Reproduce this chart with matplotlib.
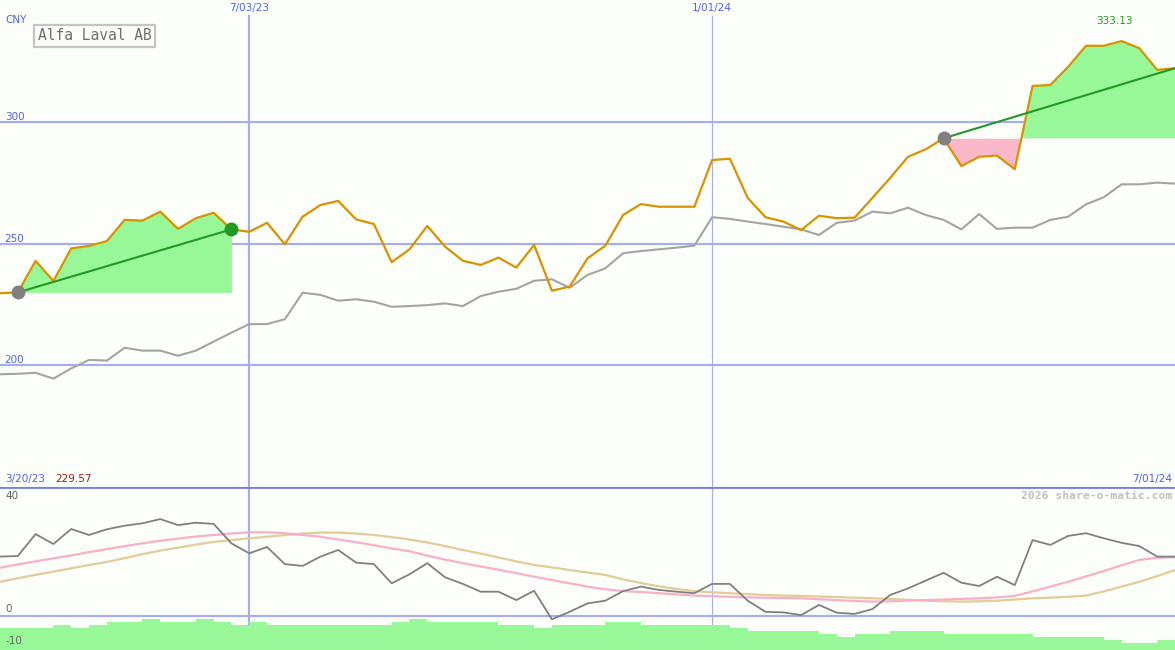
import matplotlib
matplotlib.use('Agg')
import matplotlib.pyplot as plt
import matplotlib.transforms as mtransforms
import numpy as np

# weekly closes, starting 3/20/23 (week index 0)
price = [229.57, 229.9, 242.9, 234.6, 248.0, 249.0, 251.0, 259.7, 259.4, 263.1,
         256.0, 260.4, 262.6, 255.8, 254.8, 258.5, 249.7, 261.0, 265.8, 267.5,
         259.9, 258.0, 242.3, 247.6, 257.2, 248.7, 242.9, 241.2, 244.2, 240.1,
         249.4, 230.6, 232.3, 243.9, 249.1, 261.7, 266.2, 265.1, 265.1, 265.1,
         284.3, 284.8, 268.7, 260.8, 259.0, 255.5, 261.4, 260.4, 260.6, 268.7,
         276.9, 285.6, 288.7, 293.2, 281.8, 285.6, 286.1, 280.5, 314.7, 315.1,
         322.6, 331.2, 331.2, 333.13, 330.2, 321.3, 322.0]

# comparison index (grey line)
compare = [196.3, 196.5, 196.9, 194.5, 198.7, 202.2, 201.9, 207.2, 206.0, 206.0,
           203.9, 206.0, 209.7, 213.4, 216.9, 216.9, 218.9, 229.8, 228.9, 226.5,
           227.1, 226.1, 224.0, 224.3, 224.7, 225.4, 224.3, 228.4, 230.2, 231.4,
           234.7, 235.3, 231.8, 237.1, 239.8, 246.0, 246.9, 247.6, 248.3, 249.1,
           260.8, 260.1, 259.0, 258.0, 256.9, 255.8, 253.5, 258.5, 259.4, 263.1,
           262.4, 264.7, 261.7, 259.7, 255.8, 262.1, 256.0, 256.5, 256.5, 259.7,
           261.0, 266.1, 269.0, 274.3, 274.3, 275.0, 274.6]

# lower panel indicator
osc = [19.8, 20.0, 27.3, 24.0, 29.0, 27.0, 28.9, 30.1, 30.9, 32.3,
       30.3, 31.1, 30.7, 24.2, 20.9, 23.0, 17.3, 16.7, 19.8, 22.0,
       17.8, 17.3, 10.9, 13.9, 17.6, 12.9, 10.7, 8.1, 8.1, 5.3,
       8.4, -1.1, 1.4, 4.2, 5.1, 8.3, 9.8, 8.7, 8.1, 7.6,
       10.7, 10.7, 5.1, 1.4, 1.2, 0.3, 3.7, 1.1, 0.7, 2.3,
       7.0, 9.2, 11.8, 14.4, 11.1, 10.0, 13.1, 10.3, 25.3, 23.7,
       26.7, 27.6, 25.9, 24.4, 23.3, 19.8, 19.8]

osc_fast = [16.1, 17.2, 18.2, 19.2, 20.2, 21.3, 22.3, 23.3, 24.2, 25.1,
            25.8, 26.5, 27.0, 27.5, 27.9, 27.9, 27.6, 27.0, 26.4, 25.5,
            24.6, 23.6, 22.5, 21.6, 20.1, 18.8, 17.6, 16.5, 15.4, 14.3,
            13.1, 12.0, 10.9, 9.8, 8.9, 8.3, 8.0, 7.6, 7.2, 6.8,
            6.6, 6.4, 6.2, 6.1, 6.0, 5.9, 5.6, 5.3, 5.0, 4.8,
            4.9, 5.1, 5.3, 5.5, 5.7, 5.9, 6.2, 6.7, 8.2, 9.8,
            11.4, 13.2, 15.0, 16.9, 18.7, 19.4, 19.6]

osc_slow = [11.4, 12.6, 13.7, 14.8, 15.9, 17.0, 18.0, 19.3, 20.6, 21.8,
            22.8, 23.8, 24.7, 25.3, 25.9, 26.4, 27.0, 27.5, 27.8, 27.8,
            27.5, 27.0, 26.3, 25.5, 24.5, 23.3, 22.0, 20.8, 19.5, 18.2,
            17.0, 16.2, 15.3, 14.5, 13.7, 12.2, 11.0, 9.9, 9.0, 8.3,
            7.9, 7.6, 7.3, 7.0, 6.8, 6.7, 6.5, 6.3, 6.1, 5.9,
            5.7, 5.4, 5.1, 4.9, 4.8, 4.9, 5.1, 5.5, 5.9, 6.1,
            6.4, 6.8, 8.2, 9.8, 11.4, 13.3, 15.3]

# weekly bars at the bottom (one per week)
bars = [-4, -4, -4, -3, -4, -3, -2, -2, -1, -2,
        -2, -1, -2, -3, -2, -3, -3, -3, -3, -3,
        -3, -3, -2, -1, -2, -2, -2, -2, -3, -3,
        -4, -3, -3, -3, -2, -2, -3, -3, -3, -3,
        -3, -4, -5, -5, -5, -5, -6, -7, -6, -6,
        -5, -5, -5, -6, -6, -6, -6, -6, -7, -7,
        -7, -7, -8, -9, -9, -8]

trends = [(1, 13), (53, 66)]
date_idx = [14, 40]
date_labels = ['7/03/23', '1/01/24']
date_widths = [1.5, 0.8]
start_label = '3/20/23'
end_label = '7/01/24'
price_grid = [200, 250, 300]

bg = '#fcfefa'
grid_c = '#a4acf4'
blue_txt = '#5060ee'
W, H = 1175, 650
split = 487

weeks = np.arange(len(price))
price_a = np.array(price)

fig = plt.figure(figsize=(W / 100, H / 100), dpi=100)
fig.patch.set_facecolor(bg)
ax = fig.add_axes([0, (H - split) / H, 1, split / H])
ax2 = fig.add_axes([0, 0, 1, (H - split) / H])
for a in (ax, ax2):
    a.set_facecolor(bg)
    a.set_xlim(0, len(price) - 1)
    a.set_xticks([])
    a.set_yticks([])
    for s in a.spines.values():
        s.set_visible(False)

ax.set_ylim(150, 350)
ax2.set_ylim(-34 / 3, 129 / 3)

# grid
for v in price_grid:
    ax.axhline(v, color=grid_c, lw=1.5, zorder=1)
    ax.text(0.004, v, str(v), transform=mtransforms.blended_transform_factory(ax.transAxes, ax.transData),
            color=blue_txt, fontsize=7.5, va='bottom', ha='left')
for d, lab, lw in zip(date_idx, date_labels, date_widths):
    ax.axvline(d, ymax=(split - 16) / split, color=grid_c, lw=lw, zorder=1)
    ax2.axvline(d, color=grid_c, lw=lw, zorder=1)
    ax.text(d, 1 - 8 / split, lab, transform=mtransforms.blended_transform_factory(ax.transData, ax.transAxes),
            color=blue_txt, fontsize=7.5, ha='center', va='center')

# trend fills
for s, e in trends:
    xs = weeks[s:e + 1]
    ys = price_a[s:e + 1]
    base = price[s]
    ax.fill_between(xs, ys, base, where=ys >= base, interpolate=True, color='#98f898', lw=0, zorder=2)
    ax.fill_between(xs, ys, base, where=ys < base, interpolate=True, color='#f8b8c8', lw=0, zorder=2)

ax.plot(weeks, compare, color='#a4a4a4', lw=1.5, zorder=3)
ax.plot(weeks, price, color='#d99200', lw=1.6, zorder=4)

for s, e in trends:
    ax.plot([s, e], [price[s], price[e]], color='#229922', lw=1.5, zorder=5)
    ax.plot(s, price[s], 'o', color='#808080', ms=9, zorder=6)
    if e < len(price) - 1:
        ax.plot(e, price[e], 'o', color='#229922', ms=9, zorder=6)

imax = int(np.argmax(price_a))
ax.text(imax - 0.4, 1 - 21 / split, f'{price[imax]:.2f}', color='#229922', fontsize=7.5,
        ha='center', va='center', transform=mtransforms.blended_transform_factory(ax.transData, ax.transAxes))

# lower panel
ax2.axhline(0, color=grid_c, lw=1.5, zorder=1)
ax2.plot(weeks, osc_slow, color='#e2cc98', lw=1.6, zorder=3)
ax2.plot(weeks, osc_fast, color='#f8b0c8', lw=1.6, zorder=3)
ax2.plot(weeks, osc, color='#808080', lw=1.3, zorder=4)
ax2.bar(weeks[:-1] + 0.5, np.array(bars) + 12, bottom=-12, width=1.0, color='#98f898', lw=0, zorder=2)
ax2.axhline(43, color='#7080e8', lw=2, zorder=5)

def ftext(x, y, s, **kw):
    fig.text(x / W, 1 - y / H, s, **kw)

ftext(5, 20, 'CNY', color=blue_txt, fontsize=7.5, va='center')
ftext(38, 36, 'Alfa Laval AB', color='#707070', fontsize=10.5, family='DejaVu Sans Mono', va='center',
      bbox=dict(boxstyle='square,pad=0.25', fc=bg, ec='#c4c4c4', lw=1.6))
ftext(5, 479, start_label, color=blue_txt, fontsize=7.5, va='center')
ftext(55, 479, f'{price[0]:.2f}', color='#a01818', fontsize=7.5, va='center')
ftext(1172, 479, end_label, color=blue_txt, fontsize=7.5, va='center', ha='right')
ftext(1172, 496, '2026 share-o-matic.com', color='#c0c0c0', fontsize=8.2, family='DejaVu Sans Mono',
      weight='bold', va='center', ha='right')
ftext(5, 496, '40', color='#606060', fontsize=7.5, va='center')
ftext(5, 609, '0', color='#606060', fontsize=7.5, va='center')
ftext(5, 641, '-10', color='#606060', fontsize=7.5, va='center')

fig.savefig('out.png', dpi=100, facecolor=bg)
